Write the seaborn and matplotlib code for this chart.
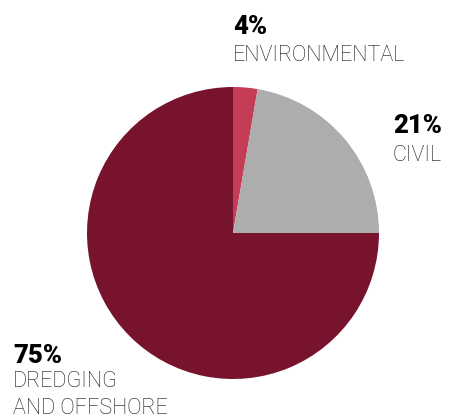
import matplotlib
matplotlib.use("Agg")
import matplotlib.pyplot as plt
import seaborn as sns

sns.set_theme(style="white")
plt.rcParams['font.family'] = ['Roboto', 'DejaVu Sans']

categories = ["ENVIRONMENTAL", "CIVIL", "DREDGING\nAND OFFSHORE"]
pct_labels = ["4%", "21%", "75%"]
shares = [2.7, 22.3, 75.0]
colors = ["#c43c55", "#adadad", "#78132e"]

W, H = 449, 420
fig = plt.figure(figsize=(W / 100, H / 100), dpi=100)
cx, cy, r = 233, 233, 146
ax = fig.add_axes([(cx - r) / W, (H - cy - r) / H, 2 * r / W, 2 * r / H])
ax.pie(shares, colors=colors, startangle=90, counterclock=False,
       wedgeprops=dict(linewidth=0))
ax.set_xlim(-1, 1)
ax.set_ylim(-1, 1)
ax.set_aspect("equal")
ax.axis("off")

def fy(y):
    return (H - y) / H

# (x, pct baseline, label baseline)
pos = [(233, 34, 61), (393, 133, 161), (13, 363, 387)]
for (x, yb, lb), p, c in zip(pos, pct_labels, categories):
    fig.text(x / W, fy(yb), p, fontsize=18.5, fontweight="black",
             color="#000000", ha="left", va="baseline")
    lines = c.split("\n")
    for i, ln in enumerate(lines):
        fig.text(x / W, fy(lb + 27 * i), ln, fontsize=15.5, fontweight="light",
                 color="#111111", ha="left", va="baseline")

fig.savefig("out.png", dpi=100)
